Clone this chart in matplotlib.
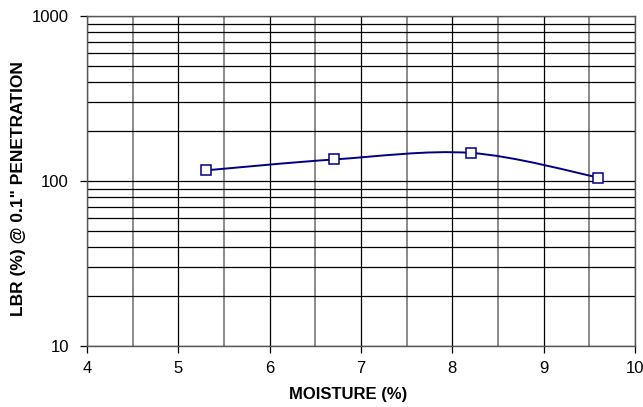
import matplotlib
matplotlib.use('Agg')

import matplotlib.pyplot as plt
import numpy as np
from matplotlib.path import Path
from matplotlib.patches import PathPatch
from matplotlib.ticker import MultipleLocator, LogLocator, NullFormatter

plt.rcParams['font.family'] = ['Liberation Sans', 'DejaVu Sans']

# Data
moisture = [5.3, 6.7, 8.2, 9.6]
lbr = [116, 135, 148, 105]

x_ticks = [4, 5, 6, 7, 8, 9, 10]
y_ticks = [10, 100, 1000]
y_tick_labels = ['10', '100', '1000']

NAVY = '#000080'

fig = plt.figure(figsize=(6.43, 4.07), dpi=100)
ax = fig.add_axes([87 / 643, 1 - 346 / 407, (635 - 87) / 643, (346 - 16) / 407])

ax.set_yscale('log')
ax.set_xlim(4, 10)
ax.set_ylim(10, 1000)

# Grid: every 0.5 on x, every minor decade step on y
ax.xaxis.set_major_locator(MultipleLocator(1))
ax.xaxis.set_minor_locator(MultipleLocator(0.5))
ax.yaxis.set_major_locator(LogLocator(base=10))
ax.yaxis.set_minor_locator(LogLocator(base=10, subs=np.arange(2, 10)))
ax.yaxis.set_minor_formatter(NullFormatter())
ax.set_xticks(x_ticks)
ax.set_yticks(y_ticks)
ax.set_yticklabels(y_tick_labels)

ax.grid(True, which='both', color='black', linewidth=0.9)
ax.grid(True, which='minor', axis='x', color='#777777', linewidth=1.2)
ax.set_axisbelow(True)

ax.tick_params(which='major', direction='out', length=5, width=0.9,
               labelsize=12)
ax.tick_params(axis='y', which='major', pad=8)
ax.tick_params(axis='x', which='major', pad=6)
ax.tick_params(which='minor', length=0)
for s in ax.spines.values():
    s.set_linewidth(1.0)
    s.set_color('#555555')

# Excel-style smoothed line: Bezier segments built in (x, log y) space
lx = np.array(moisture, dtype=float)
ly = np.log10(np.array(lbr, dtype=float))
n = len(lx)
verts = [(lx[0], lbr[0])]
codes = [Path.MOVETO]
for i in range(n - 1):
    i0 = max(i - 1, 0)
    i3 = min(i + 2, n - 1)
    c1x = lx[i] + (lx[i + 1] - lx[i0]) / 6
    c1y = ly[i] + (ly[i + 1] - ly[i0]) / 6
    c2x = lx[i + 1] - (lx[i3] - lx[i]) / 6
    c2y = ly[i + 1] - (ly[i3] - ly[i]) / 6
    verts += [(c1x, 10 ** c1y), (c2x, 10 ** c2y), (lx[i + 1], lbr[i + 1])]
    codes += [Path.CURVE4] * 3
ax.add_patch(PathPatch(Path(verts, codes), facecolor='none', edgecolor=NAVY,
                       linewidth=1.4, zorder=3))

ax.plot(moisture, lbr, linestyle='none', marker='s', markersize=6.5,
        markerfacecolor='white', markeredgecolor=NAVY, markeredgewidth=1.1,
        zorder=4)

ax.set_xlabel('MOISTURE (%)', fontsize=12, fontweight='bold', va='center')
ax.set_ylabel('LBR (%) @ 0.1" PENETRATION', fontsize=12.5, fontweight='bold',
              va='center')
ax.xaxis.set_label_coords(0.476, -0.148)
ax.yaxis.set_label_coords(-0.125, 0.476)

plt.savefig('out.png', dpi=100)
plt.close()
